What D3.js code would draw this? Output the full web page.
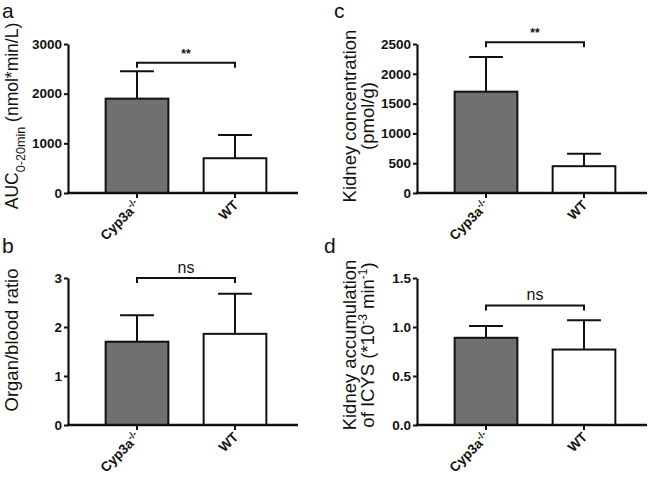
<!DOCTYPE html>
<html><head><meta charset="utf-8">
<script src="https://cdn.jsdelivr.net/npm/d3@7"></script>
<style>
html,body{margin:0;padding:0;background:#fff;}
svg{display:block;font-family:"Liberation Sans",Arial,Helvetica,sans-serif;}
</style></head>
<body>
<svg id="chart" width="649" height="482"></svg>
<script>
const categories = ["Cyp3a", "WT"];
const aucMean = [1900, 700];
const aucErr = [2450, 1170];
const kidneyMean = [1700, 450];
const kidneyErr = [2280, 660];
const ratioMean = [1.7, 1.86];
const ratioErr = [2.24, 2.68];
const accumMean = [0.89, 0.77];
const accumErr = [1.01, 1.07];
const aucTicks = [0, 1000, 2000, 3000];
const kidneyTicks = [0, 500, 1000, 1500, 2000, 2500];
const ratioTicks = [0, 1, 2, 3];
const accumTicks = [0, 0.5, 1.0, 1.5];
const sigLabels = ["**", "**", "ns", "ns"];
const sigLevels = [2620, 2530, 3.0, 1.22];

const svg = d3.select("#chart");
const fills = ["#707070", "#ffffff"];

function panel(o) {
  const g = svg.append("g").attr("transform", `translate(${o.x},${o.y})`);
  const W = 230, H = o.h;
  const y = d3.scaleLinear().domain([0, o.max]).range([H, 0]);
  const x = d3.scaleBand().domain(categories).range([20, 216]).paddingInner(0.36).paddingOuter(0.18);
  g.selectAll("rect.bar").data(o.mean).join("rect")
    .attr("x", (d, i) => x(categories[i]))
    .attr("y", d => y(d))
    .attr("width", x.bandwidth())
    .attr("height", d => H - y(d))
    .attr("fill", (d, i) => fills[i])
    .attr("stroke", "#111").attr("stroke-width", 2);
  const cap = x.bandwidth() * 0.27;
  o.err.forEach((e, i) => {
    const cx = x(categories[i]) + x.bandwidth() / 2;
    g.append("line").attr("x1", cx).attr("x2", cx).attr("y1", y(o.mean[i])).attr("y2", y(e))
      .attr("stroke", "#111").attr("stroke-width", 2);
    g.append("line").attr("x1", cx - cap).attr("x2", cx + cap).attr("y1", y(e)).attr("y2", y(e))
      .attr("stroke", "#111").attr("stroke-width", 2);
  });
  const ya = g.append("g").call(d3.axisLeft(y).tickValues(o.ticks).tickFormat(o.fmt).tickSizeOuter(0).tickSizeInner(4).tickPadding(2));
  ya.select(".domain").attr("stroke", "#111").attr("stroke-width", 2.2);
  ya.selectAll(".tick line").attr("stroke", "#111").attr("stroke-width", 2);
  ya.selectAll(".tick text").attr("font-size", 13.5).attr("font-weight", "bold").attr("fill", "#111")
    .attr("font-family", "'Liberation Sans',Arial,sans-serif");
  const xa = g.append("g").attr("transform", `translate(0,${H})`);
  xa.append("line").attr("x1", -1).attr("x2", W).attr("y1", 0).attr("y2", 0).attr("stroke", "#111").attr("stroke-width", 2.5);
  categories.forEach((c, i) => {
    const cx = x(c) + x.bandwidth() / 2;
    xa.append("line").attr("x1", cx).attr("x2", cx).attr("y1", 0).attr("y2", 5).attr("stroke", "#111").attr("stroke-width", 2);
    const t = xa.append("text").attr("transform", `translate(${cx + 4},13) rotate(-45)`)
      .attr("text-anchor", "end").attr("font-size", 13.5).attr("font-weight", "bold").attr("fill", "#111");
    if (i === 0) {
      t.append("tspan").text("Cyp3a");
      t.append("tspan").attr("baseline-shift", "super").attr("font-size", 9.5).text("-/-");
    } else t.text(c);
  });
  const x1 = x(categories[0]) + x.bandwidth() / 2, x2 = x(categories[1]) + x.bandwidth() / 2;
  const by = y(o.sig);
  g.append("path").attr("d", `M${x1},${by + 5}V${by}H${x2}V${by + 5}`).attr("fill", "none")
    .attr("stroke", "#111").attr("stroke-width", 2);
  g.append("text").attr("x", (x1 + x2) / 2).attr("y", by - 5).attr("text-anchor", "middle")
    .attr("font-size", o.sigLabel === "**" ? 12 : 16).attr("font-weight", o.sigLabel === "**" ? "bold" : "normal")
    .attr("fill", "#111").text(o.sigLabel);
  return g;
}

panel({x: 68, y: 44, h: 149, max: 3000, ticks: aucTicks, fmt: d3.format("d"), mean: aucMean, err: aucErr, sig: sigLevels[0], sigLabel: sigLabels[0]});
panel({x: 417, y: 44, h: 149, max: 2500, ticks: kidneyTicks, fmt: d3.format("d"), mean: kidneyMean, err: kidneyErr, sig: sigLevels[1], sigLabel: sigLabels[1]});
panel({x: 68, y: 278, h: 147, max: 3, ticks: ratioTicks, fmt: d3.format("d"), mean: ratioMean, err: ratioErr, sig: sigLevels[2], sigLabel: sigLabels[2]});
panel({x: 417, y: 278, h: 147, max: 1.5, ticks: accumTicks, fmt: d3.format(".1f"), mean: accumMean, err: accumErr, sig: sigLevels[3], sigLabel: sigLabels[3]});

const letters = [["a", 2, 18], ["c", 334, 18], ["b", 2, 253], ["d", 324, 253]];
letters.forEach(([t, lx, ly]) => svg.append("text").attr("x", lx).attr("y", ly).attr("font-size", 21).attr("fill", "#111").text(t));

function ytitle(cx, cy, lines, fs) {
  const t = svg.append("text").attr("transform", `translate(${cx},${cy}) rotate(-90)`).attr("text-anchor", "middle")
    .attr("font-size", fs).attr("fill", "#111");
  lines.forEach((parts, li) => {
    parts.forEach((p, pi) => {
      const s = t.append("tspan").text(p.t);
      if (pi === 0) s.attr("x", 0).attr("y", li * 18);
      if (p.sub) s.attr("baseline-shift", "sub").attr("font-size", fs * 0.72);
      if (p.sup) s.attr("baseline-shift", "super").attr("font-size", fs * 0.65);
    });
  });
}
ytitle(18, 116, [[{t: "AUC"}, {t: "0-20min", sub: true}, {t: " (nmol*min/L)"}]], 17.5);
ytitle(356, 116, [[{t: "Kidney concentration"}], [{t: "(pmol/g)"}]], 18.5);
ytitle(18, 340, [[{t: "Organ/blood ratio"}]], 18.5);
ytitle(356, 345, [[{t: "Kidney accumulation"}], [{t: "of ICYS (*10"}, {t: "-3", sup: true}, {t: " min"}, {t: "-1", sup: true}, {t: ")"}]], 18.5);
</script>
</body></html>
